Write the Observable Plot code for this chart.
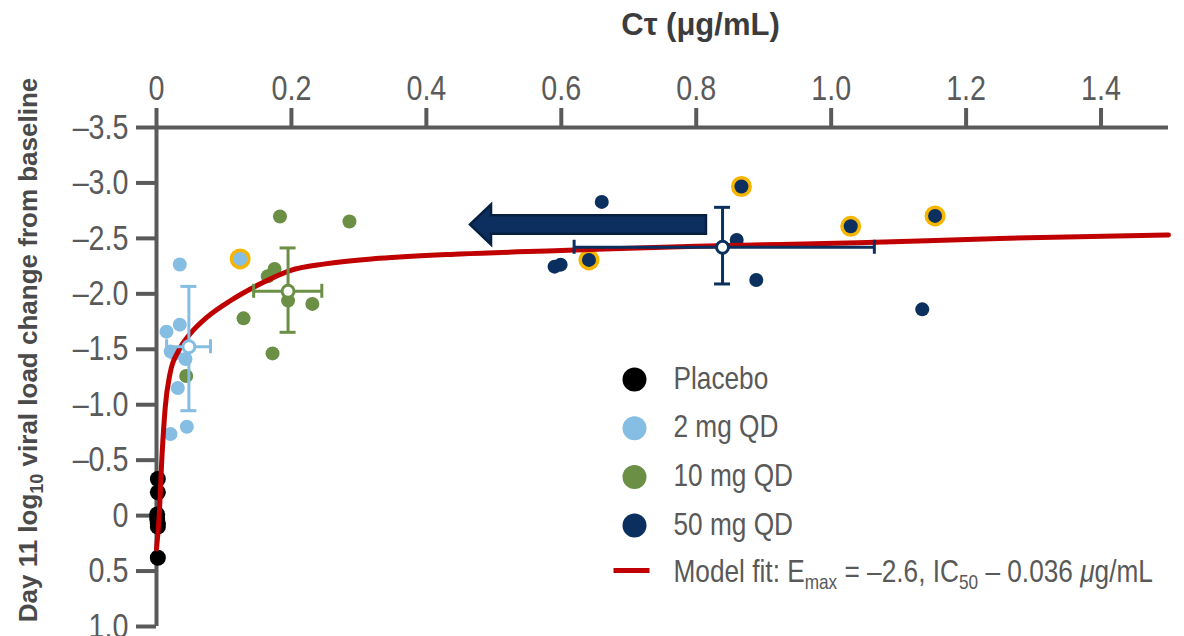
<!DOCTYPE html>
<html><head><meta charset="utf-8">
<script src="https://cdn.jsdelivr.net/npm/d3@7"></script>
<script src="https://cdn.jsdelivr.net/npm/@observablehq/plot@0.6"></script>
<style>body{margin:0;background:#fff;}</style>
</head><body><div id="chart"></div>
<script>
// ---------- data ----------
const groups = ["Placebo", "2 mg QD", "10 mg QD", "50 mg QD"];
const groupColors = ["#000000", "#85bde3", "#6a8f45", "#0b2f5e"];

const placeboC = [0.002, 0.002, 0.001, 0.001, 0.002, 0.002, 0.002];
const placeboY = [-0.33, -0.21, -0.01, 0.03, 0.07, 0.10, 0.38];

const mg2C = [0.0345, 0.124, 0.0345, 0.0148, 0.021, 0.027, 0.043, 0.0316, 0.045, 0.0207];
const mg2Y = [-2.264, -2.315, -1.722, -1.659, -1.48, -1.46, -1.412, -1.151, -0.801, -0.735];
const mg2Highlight = [1];

const mg10C = [0.183, 0.286, 0.175, 0.165, 0.195, 0.231, 0.129, 0.172, 0.044];
const mg10Y = [-2.697, -2.652, -2.225, -2.158, -1.939, -1.909, -1.779, -1.463, -1.259];

const mg50C = [0.660, 0.867, 0.641, 0.590, 0.599, 0.860, 0.889, 1.029, 1.154, 1.135];
const mg50Y = [-2.829, -2.968, -2.306, -2.245, -2.263, -2.486, -2.125, -2.609, -2.703, -1.86];
const mg50Highlight = [1, 2, 7, 8];

// group means with error bars: [2 mg, 10 mg, 50 mg]
const meanGroups = ["2 mg QD", "10 mg QD", "50 mg QD"];
const meanC  = [0.048, 0.195, 0.839];
const meanY  = [-1.523, -2.023, -2.42];
const meanCLo = [0.015, 0.144, 0.619];
const meanCHi = [0.080, 0.245, 1.064];
const meanYLo = [-2.067, -2.414, -2.78];
const meanYHi = [-0.946, -1.653, -2.089];

// model fit curve
const fitC = [0.000, 0.004, 0.008, 0.013, 0.020, 0.033, 0.050, 0.075, 0.110, 0.154, 0.198, 0.250, 0.330, 0.450, 0.600, 0.800, 1.040, 1.250, 1.500];
const fitY = [0.30, 0.00, -0.52, -0.98, -1.28, -1.49, -1.64, -1.79, -1.94, -2.09, -2.21, -2.27, -2.32, -2.36, -2.39, -2.43, -2.46, -2.50, -2.53];

// arrow annotation (tip, tail, level)
const arrowTipC = [0.4647];
const arrowTailC = [0.817];
const arrowY = [-2.625];

const xTicks = [0, 0.2, 0.4, 0.6, 0.8, 1.0, 1.2, 1.4];
const yTicks = [-3.5, -3.0, -2.5, -2.0, -1.5, -1.0, -0.5, 0, 0.5, 1.0];

const xTitle = "Cτ (μg/mL)";
const yTitle = "Day 11 log10 viral load change from baseline";
const fitLabel = "Model fit: Emax = –2.6, IC50 – 0.036 μg/mL";

// ---------- tables ----------
const pts = [];
function addGroup(g, C, Y, hl = []) {
  C.forEach((c, i) => pts.push({group: g, c, v: Y[i], hl: hl.includes(i)}));
}
addGroup("Placebo", placeboC, placeboY);
addGroup("2 mg QD", mg2C, mg2Y, mg2Highlight);
addGroup("10 mg QD", mg10C, mg10Y);
addGroup("50 mg QD", mg50C, mg50Y, mg50Highlight);

const means = meanGroups.map((g, i) => ({group: g, c: meanC[i], v: meanY[i],
  cLo: meanCLo[i], cHi: meanCHi[i], vLo: meanYLo[i], vHi: meanYHi[i]}));
const fit = fitC.map((c, i) => ({c, v: fitY[i]}));
const arrow = arrowTipC.map((t, i) => ({tip: t, tail: arrowTailC[i], v: arrowY[i]}));

// ---------- styles ----------
const fontMain = "'Liberation Sans',Arial,'DejaVu Sans',sans-serif";
const axisGray = "#5a5a5a";
const textGray = "#595959";
const gold = "#f7b500";
const red = "#c00000";
const arrowDark = "#08203f";
const arrowFill = "#0c2f5f";
const narrow = " scale(0.82,1)";

const fmt = d => d === 0 ? "0" : (d < 0 ? "–" : "") + Math.abs(d).toFixed(1);

const headSymbol = {draw(ctx) { ctx.moveTo(0, 0); ctx.lineTo(21, -20); ctx.lineTo(21, 20); ctx.closePath(); }};
const lineSymbol = {draw(ctx) { ctx.rect(-18, -2.5, 36, 5); }};

const legendMarks = [];
groups.forEach((g, i) => {
  legendMarks.push(Plot.dot([g], {frameAnchor: "top-left", dx: 478, dy: 252 + i * 48.7, r: 12, fill: groupColors[i]}));
  legendMarks.push(Plot.text([g], {frameAnchor: "top-left", dx: 517, dy: 251 + i * 48.7, text: d => d,
    textAnchor: "start", lineAnchor: "middle", fontSize: 32, fill: textGray}));
});
legendMarks.push(Plot.dot([fitLabel], {frameAnchor: "top-left", dx: 475, dy: 443, r: 1, symbol: lineSymbol, fill: red, stroke: "none"}));
legendMarks.push(Plot.text([fitLabel], {frameAnchor: "top-left", dx: 517, dy: 444, text: d => d,
  textAnchor: "start", lineAnchor: "middle", fontSize: 32, fill: textGray}));

const chart = Plot.plot({
  width: 1184, height: 636,
  marginTop: 127, marginLeft: 156, marginRight: 16, marginBottom: 10,
  style: {fontFamily: fontMain, fontSize: "32px", background: "#fff", overflow: "visible"},
  x: {domain: [0, 1.5]},
  y: {domain: [1.0, -3.5]},
  color: {domain: groups, range: groupColors},
  marks: [
    Plot.axisX({anchor: "top", ticks: xTicks, tickSize: 20, tickPadding: 8, tickFormat: fmt,
      strokeWidth: 4, color: axisGray, label: null, fontSize: 35}),
    Plot.axisY({anchor: "left", ticks: yTicks, tickSize: 20, tickPadding: 8, tickFormat: fmt,
      strokeWidth: 4, color: axisGray, label: null, fontSize: 35}),
    Plot.ruleY([-3.5], {stroke: axisGray, strokeWidth: 4}),
    Plot.ruleX([0], {stroke: axisGray, strokeWidth: 4}),
    // highlighted rings
    Plot.dot(pts.filter(d => d.hl), {x: "c", y: "v", r: 10.5, fill: gold}),
    Plot.dot(pts.filter(d => d.group !== "Placebo"), {x: "c", y: "v", r: 7, fill: "group"}),
    Plot.dot(pts.filter(d => d.group === "Placebo"), {x: "c", y: "v", r: 8, fill: "group"}),
    // model fit
    Plot.line(fit, {x: "c", y: "v", stroke: red, strokeWidth: 5, curve: "monotone-x"}),
    // error bars
    Plot.ruleY(means, {y: "v", x1: "cLo", x2: "cHi", stroke: "group", strokeWidth: 3}),
    Plot.ruleX(means, {x: "c", y1: "vLo", y2: "vHi", stroke: "group", strokeWidth: 3}),
    Plot.ruleX(means, {x: "cLo", y1: "v", y2: "v", insetTop: -7, insetBottom: -7, stroke: "group", strokeWidth: 3}),
    Plot.ruleX(means, {x: "cHi", y1: "v", y2: "v", insetTop: -7, insetBottom: -7, stroke: "group", strokeWidth: 3}),
    Plot.ruleY(means, {y: "vLo", x1: "c", x2: "c", insetLeft: -8, insetRight: -8, stroke: "group", strokeWidth: 3}),
    Plot.ruleY(means, {y: "vHi", x1: "c", x2: "c", insetLeft: -8, insetRight: -8, stroke: "group", strokeWidth: 3}),
    Plot.dot(means, {x: "c", y: "v", r: 6, fill: "white", stroke: "group", strokeWidth: 3}),
    // arrow
    Plot.ruleY(arrow, {y: "v", x1: d => d.tip + 0.03, x2: "tail", stroke: arrowDark, strokeWidth: 21}),
    Plot.dot(arrow, {x: "tip", y: "v", r: 1, symbol: headSymbol, fill: arrowFill, stroke: arrowDark, strokeWidth: 2.5}),
    Plot.ruleY(arrow, {y: "v", x1: d => d.tip + 0.025, x2: "tail", insetRight: 2.5, stroke: arrowFill, strokeWidth: 16}),
    // legend
    ...legendMarks,
    // axis titles
    Plot.text([xTitle], {frameAnchor: "top", dx: 38, dy: -102, text: d => d, fontWeight: "bold",
      fontSize: 31, fill: "#3c3c3c", lineAnchor: "middle", textAnchor: "middle"}),
    Plot.text([yTitle], {frameAnchor: "left", dx: -128, dy: -27, rotate: -90, text: d => d, fontWeight: "bold",
      fontSize: 26, fill: "#4a4a4a", lineAnchor: "middle", textAnchor: "middle"})
  ]
});

// narrow-font emulation for tick labels and legend
chart.querySelectorAll('g[aria-label="x-axis tick label"] text, g[aria-label="y-axis tick label"] text').forEach(t => {
  t.setAttribute("transform", (t.getAttribute("transform") || "") + narrow);
});
chart.querySelectorAll("text").forEach(t => {
  const s = t.textContent;
  if (groups.includes(s) || s === fitLabel) {
    t.setAttribute("transform", (t.getAttribute("transform") || "") + narrow);
  }
  if (s === yTitle) {
    t.innerHTML = 'Day 11 log<tspan dy="6" font-size="18">10</tspan><tspan dy="-6"> viral load change from baseline</tspan>';
  } else if (s === fitLabel) {
    t.innerHTML = 'Model fit: E<tspan dy="7" font-size="21">max</tspan><tspan dy="-7"> = –2.6, IC</tspan><tspan dy="7" font-size="21">50</tspan><tspan dy="-7"> – 0.036 </tspan><tspan font-style="italic">μ</tspan>g/mL';
  }
});

document.getElementById("chart").appendChild(chart);
</script>
</body></html>
